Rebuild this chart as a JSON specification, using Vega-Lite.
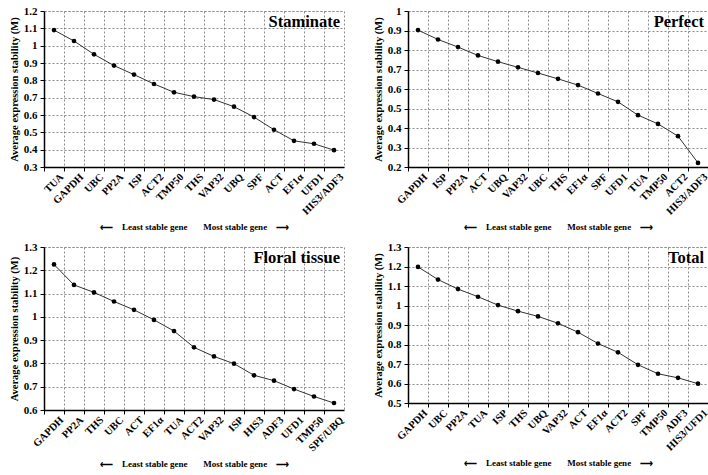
{
  "$schema": "https://vega.github.io/schema/vega-lite/v6.json",
  "background": "white",
  "padding": {"left": 8, "top": 4, "right": 2, "bottom": 2},
  "datasets": {
    "staminate": [
      {"rank": 1, "gene": "TUA", "M": 1.09},
      {"rank": 2, "gene": "GAPDH", "M": 1.027},
      {"rank": 3, "gene": "UBC", "M": 0.95},
      {"rank": 4, "gene": "PP2A", "M": 0.885},
      {"rank": 5, "gene": "ISP", "M": 0.833},
      {"rank": 6, "gene": "ACT2", "M": 0.779},
      {"rank": 7, "gene": "TMP50", "M": 0.731},
      {"rank": 8, "gene": "THS", "M": 0.706},
      {"rank": 9, "gene": "VAP32", "M": 0.689},
      {"rank": 10, "gene": "UBQ", "M": 0.648},
      {"rank": 11, "gene": "SPF", "M": 0.588},
      {"rank": 12, "gene": "ACT", "M": 0.515},
      {"rank": 13, "gene": "EF1α", "M": 0.451},
      {"rank": 14, "gene": "UFD1", "M": 0.434},
      {"rank": 15, "gene": "HIS3/ADF3", "M": 0.397}
    ],
    "perfect": [
      {"rank": 1, "gene": "GAPDH", "M": 0.902},
      {"rank": 2, "gene": "ISP", "M": 0.854},
      {"rank": 3, "gene": "PP2A", "M": 0.815},
      {"rank": 4, "gene": "ACT", "M": 0.772},
      {"rank": 5, "gene": "UBQ", "M": 0.74},
      {"rank": 6, "gene": "VAP32", "M": 0.711},
      {"rank": 7, "gene": "UBC", "M": 0.682},
      {"rank": 8, "gene": "THS", "M": 0.652},
      {"rank": 9, "gene": "EF1α", "M": 0.62},
      {"rank": 10, "gene": "SPF", "M": 0.577},
      {"rank": 11, "gene": "UFD1", "M": 0.534},
      {"rank": 12, "gene": "TUA", "M": 0.466},
      {"rank": 13, "gene": "TMP50", "M": 0.421},
      {"rank": 14, "gene": "ACT2", "M": 0.358},
      {"rank": 15, "gene": "HIS3/ADF3", "M": 0.221}
    ],
    "floral": [
      {"rank": 1, "gene": "GAPDH", "M": 1.225},
      {"rank": 2, "gene": "PP2A", "M": 1.137},
      {"rank": 3, "gene": "THS", "M": 1.105},
      {"rank": 4, "gene": "UBC", "M": 1.066},
      {"rank": 5, "gene": "ACT", "M": 1.03},
      {"rank": 6, "gene": "EF1α", "M": 0.987},
      {"rank": 7, "gene": "TUA", "M": 0.939},
      {"rank": 8, "gene": "ACT2", "M": 0.869},
      {"rank": 9, "gene": "VAP32", "M": 0.83},
      {"rank": 10, "gene": "ISP", "M": 0.799},
      {"rank": 11, "gene": "HIS3", "M": 0.749},
      {"rank": 12, "gene": "ADF3", "M": 0.726},
      {"rank": 13, "gene": "UFD1", "M": 0.69},
      {"rank": 14, "gene": "TMP50", "M": 0.658},
      {"rank": 15, "gene": "SPF/UBQ", "M": 0.63}
    ],
    "total": [
      {"rank": 1, "gene": "GAPDH", "M": 1.198},
      {"rank": 2, "gene": "UBC", "M": 1.133},
      {"rank": 3, "gene": "PP2A", "M": 1.084},
      {"rank": 4, "gene": "TUA", "M": 1.045},
      {"rank": 5, "gene": "ISP", "M": 1.002},
      {"rank": 6, "gene": "THS", "M": 0.971},
      {"rank": 7, "gene": "UBQ", "M": 0.944},
      {"rank": 8, "gene": "VAP32", "M": 0.909},
      {"rank": 9, "gene": "ACT", "M": 0.863},
      {"rank": 10, "gene": "EF1α", "M": 0.805},
      {"rank": 11, "gene": "ACT2", "M": 0.76},
      {"rank": 12, "gene": "SPF", "M": 0.696},
      {"rank": 13, "gene": "TMP50", "M": 0.65},
      {"rank": 14, "gene": "ADF3", "M": 0.629},
      {"rank": 15, "gene": "HIS3/UFD1", "M": 0.599}
    ]
  },
  "columns": 2,
  "spacing": {"column": 26, "row": 8},
  "concat": [
    {
      "data": {"name": "staminate"},
      "width": 300, "height": 156,
      "title": {"text": "Staminate"},
      "encoding": {
        "x": {"field": "gene", "type": "nominal", "sort": null, "scale": {"type": "band", "paddingInner": 0, "paddingOuter": 0},
              "axis": {"title": "⟵\u00a0\u00a0\u00a0\u00a0Least stable gene\u00a0\u00a0\u00a0\u00a0\u00a0\u00a0\u00a0Most stable gene\u00a0\u00a0\u00a0\u00a0⟶"}},
        "y": {"field": "M", "type": "quantitative", "title": "Average expression stability (M)", "scale": {"domain": [0.3, 1.2], "nice": false, "zero": false},
              "axis": {"values": [0.3, 0.4, 0.5, 0.6, 0.7, 0.8, 0.9, 1.0, 1.1, 1.2]}},
        "order": {"field": "rank"}
      },
      "layer": [
        {"mark": {"type": "line", "color": "#333", "strokeWidth": 1}},
        {"mark": {"type": "point", "filled": true, "color": "#000", "size": 22, "opacity": 1}}
      ]
    },
    {
      "data": {"name": "perfect"},
      "width": 300, "height": 156,
      "title": {"text": "Perfect"},
      "encoding": {
        "x": {"field": "gene", "type": "nominal", "sort": null, "scale": {"type": "band", "paddingInner": 0, "paddingOuter": 0},
              "axis": {"title": "⟵\u00a0\u00a0\u00a0\u00a0Least stable gene\u00a0\u00a0\u00a0\u00a0\u00a0\u00a0\u00a0Most stable gene\u00a0\u00a0\u00a0\u00a0⟶"}},
        "y": {"field": "M", "type": "quantitative", "title": "Average expression stability (M)", "scale": {"domain": [0.2, 1.0], "nice": false, "zero": false},
              "axis": {"values": [0.2, 0.3, 0.4, 0.5, 0.6, 0.7, 0.8, 0.9, 1.0]}},
        "order": {"field": "rank"}
      },
      "layer": [
        {"mark": {"type": "line", "color": "#333", "strokeWidth": 1}},
        {"mark": {"type": "point", "filled": true, "color": "#000", "size": 22, "opacity": 1}}
      ]
    },
    {
      "data": {"name": "floral"},
      "width": 300, "height": 163,
      "title": {"text": "Floral tissue"},
      "encoding": {
        "x": {"field": "gene", "type": "nominal", "sort": null, "scale": {"type": "band", "paddingInner": 0, "paddingOuter": 0},
              "axis": {"title": "⟵\u00a0\u00a0\u00a0\u00a0Least stable gene\u00a0\u00a0\u00a0\u00a0\u00a0\u00a0\u00a0Most stable gene\u00a0\u00a0\u00a0\u00a0⟶"}},
        "y": {"field": "M", "type": "quantitative", "title": "Average expression stability (M)", "scale": {"domain": [0.6, 1.3], "nice": false, "zero": false},
              "axis": {"values": [0.6, 0.7, 0.8, 0.9, 1.0, 1.1, 1.2, 1.3]}},
        "order": {"field": "rank"}
      },
      "layer": [
        {"mark": {"type": "line", "color": "#333", "strokeWidth": 1}},
        {"mark": {"type": "point", "filled": true, "color": "#000", "size": 22, "opacity": 1}}
      ]
    },
    {
      "data": {"name": "total"},
      "width": 300, "height": 156,
      "title": {"text": "Total"},
      "encoding": {
        "x": {"field": "gene", "type": "nominal", "sort": null, "scale": {"type": "band", "paddingInner": 0, "paddingOuter": 0},
              "axis": {"title": "⟵\u00a0\u00a0\u00a0\u00a0Least stable gene\u00a0\u00a0\u00a0\u00a0\u00a0\u00a0\u00a0Most stable gene\u00a0\u00a0\u00a0\u00a0⟶"}},
        "y": {"field": "M", "type": "quantitative", "title": "Average expression stability (M)", "scale": {"domain": [0.5, 1.3], "nice": false, "zero": false},
              "axis": {"values": [0.5, 0.6, 0.7, 0.8, 0.9, 1.0, 1.1, 1.2, 1.3]}},
        "order": {"field": "rank"}
      },
      "layer": [
        {"mark": {"type": "line", "color": "#333", "strokeWidth": 1}},
        {"mark": {"type": "point", "filled": true, "color": "#000", "size": 22, "opacity": 1}}
      ]
    }
  ],
  "config": {
    "font": "Liberation Serif",
    "view": {"stroke": "#8a8a8a", "strokeDash": [2, 2], "strokeWidth": 1},
    "title": {"font": "Liberation Serif", "fontSize": 16.5, "fontWeight": "bold", "color": "#000", "anchor": "end", "frame": "group", "offset": -25, "dx": -4},
    "axis": {
      "labelFont": "Liberation Serif", "labelFontWeight": "bold", "labelFontSize": 11, "labelColor": "#000",
      "titleFont": "Liberation Serif", "titleFontWeight": "bold", "titleColor": "#000",
      "domainColor": "#000", "domainWidth": 1.5, "tickColor": "#000", "tickSize": 4, "tickWidth": 1,
      "grid": true, "gridColor": "#8a8a8a", "gridDash": [2, 2], "gridOpacity": 1, "gridWidth": 1
    },
    "axisX": {"labelAngle": -45, "labelAlign": "right", "labelBaseline": "middle", "bandPosition": 0, "labelOffset": 8, "labelPadding": 4, "labelFontSize": 10.5, "titleFontSize": 9, "titlePadding": 6, "labelOverlap": false},
    "axisY": {"format": ".1~f", "titleFontSize": 10.5, "titlePadding": 4, "labelPadding": 3}
  }
}
